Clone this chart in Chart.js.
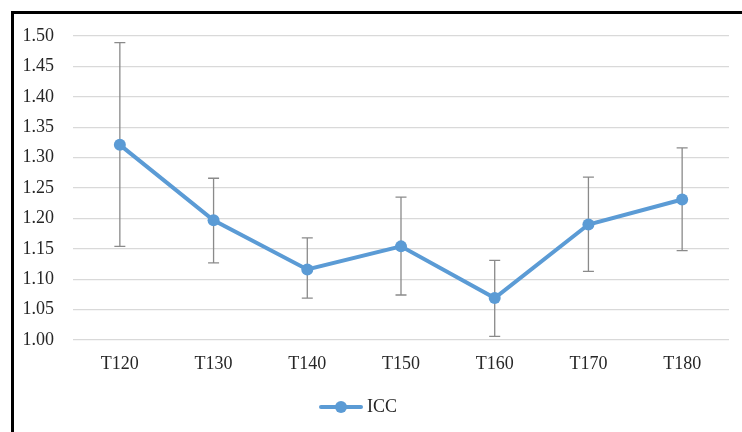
<!DOCTYPE html>
<html>
<head>
<meta charset="utf-8">
<script src="https://cdn.jsdelivr.net/npm/chart.js@4.4.1/dist/chart.umd.min.js"></script>
<style>
  html, body { margin: 0; padding: 0; background: #ffffff; overflow: hidden; }
  #frame { position: absolute; left: 11px; top: 11px; width: 800px; height: 500px;
           border-left: 3px solid #000; border-top: 3px solid #000; box-sizing: border-box; }
  #wrap { position: absolute; left: 0; top: 0; width: 742px; height: 432px; }
</style>
</head>
<body>
<div id="frame"></div>
<div id="wrap"><canvas id="chart" width="742" height="432"></canvas></div>
<script>
// Categories and ICC means with upper / lower error limits
const categories = ['T120', 'T130', 'T140', 'T150', 'T160', 'T170', 'T180'];
const iccValues  = [1.321, 1.197, 1.116, 1.154, 1.069, 1.190, 1.231];
const errorUpper = [1.489, 1.266, 1.168, 1.235, 1.131, 1.268, 1.316];
const errorLower = [1.154, 1.127, 1.069, 1.074, 1.006, 1.113, 1.147];
const yTickMin = 1.00, yTickMax = 1.50, yTickStep = 0.05;

const seriesColor = '#5B9BD5';
const fontFamily = '"Liberation Serif", "Times New Roman", serif';

// Legend marker: a short line with a dot in the middle
const legendMarker = document.createElement('canvas');
legendMarker.width = 44; legendMarker.height = 14;
(function () {
  const c = legendMarker.getContext('2d');
  c.strokeStyle = seriesColor; c.lineWidth = 4; c.lineCap = 'round';
  c.beginPath(); c.moveTo(2, 7); c.lineTo(42, 7); c.stroke();
  c.fillStyle = seriesColor;
  c.beginPath(); c.arc(22, 7, 6, 0, Math.PI * 2); c.fill();
})();

// Vertical error bars with caps, drawn underneath the line
const errorBars = {
  id: 'errorBars',
  beforeDatasetsDraw(chart) {
    const { ctx, scales: { x, y } } = chart;
    ctx.save();
    ctx.strokeStyle = '#8a8a8a';
    ctx.lineWidth = 1.3;
    categories.forEach((cat, i) => {
      const px = x.getPixelForValue(i);
      const top = y.getPixelForValue(errorUpper[i]);
      const bot = y.getPixelForValue(errorLower[i]);
      ctx.beginPath();
      ctx.moveTo(px, top); ctx.lineTo(px, bot);
      ctx.moveTo(px - 5.5, top); ctx.lineTo(px + 5.5, top);
      ctx.moveTo(px - 5.5, bot); ctx.lineTo(px + 5.5, bot);
      ctx.stroke();
    });
    ctx.restore();
  }
};

// Nudge the legend box a little to the left of the canvas centre
const legendShift = {
  id: 'legendShift',
  afterLayout(chart) {
    if (chart.legend) {
      chart.legend.left -= 11;
      chart.legend.right -= 11;
    }
  }
};

new Chart(document.getElementById('chart'), {
  type: 'line',
  data: {
    labels: categories,
    datasets: [{
      label: 'ICC',
      data: iccValues,
      borderColor: seriesColor,
      backgroundColor: seriesColor,
      borderWidth: 4,
      pointRadius: 6,
      pointBackgroundColor: seriesColor,
      pointBorderColor: seriesColor,
      pointBorderWidth: 0,
      pointStyle: 'circle',
      tension: 0,
      fill: false
    }]
  },
  options: {
    responsive: false,
    animation: false,
    devicePixelRatio: 1,
    layout: { padding: { left: 14, right: 13, top: 36, bottom: 6 } },
    plugins: {
      tooltip: { enabled: false },
      legend: {
        position: 'bottom',
        labels: {
          color: '#262626',
          font: { family: fontFamily, size: 18 },
          padding: 10,
          usePointStyle: true,
          pointStyleWidth: 34,
          generateLabels: (chart) => [{
            text: 'ICC',
            pointStyle: legendMarker,
            fillStyle: seriesColor,
            strokeStyle: seriesColor,
            lineWidth: 0,
            fontColor: '#262626',
            datasetIndex: 0,
            hidden: false
          }]
        }
      }
    },
    scales: {
      x: {
        offset: true,
        grid: { display: false, drawTicks: false },
        border: { display: false },
        ticks: { color: '#262626', font: { family: fontFamily, size: 18 }, padding: 13 },
        afterFit(scale) { scale.height = 48; }
      },
      y: {
        min: yTickMin,
        max: yTickMax,
        grid: { color: '#d9d9d9', lineWidth: 1.3, drawTicks: false },
        border: { display: false },
        ticks: {
          stepSize: yTickStep,
          color: '#262626',
          font: { family: fontFamily, size: 18 },
          padding: 19,
          callback: (v) => Number(v).toFixed(2)
        },
        afterFit(scale) { scale.width = 59; }
      }
    }
  },
  plugins: [errorBars, legendShift]
});
</script>
</body>
</html>
